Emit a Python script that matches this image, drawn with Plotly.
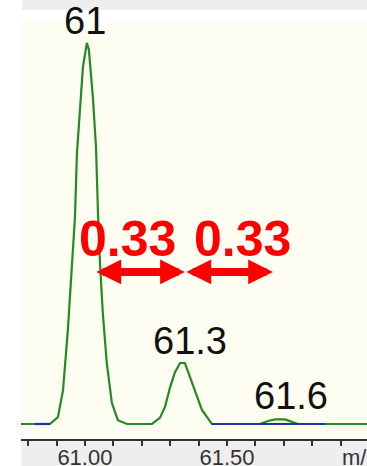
import plotly.graph_objects as go

# ---- data ----
mz = [60.775, 60.850, 60.877, 60.905, 60.923, 60.940, 60.954, 60.965, 60.972, 60.982, 60.993,
      61.007, 61.014, 61.028, 61.039, 61.046, 61.053, 61.063, 61.077, 61.095, 61.116, 61.148,
      61.236, 61.264, 61.282, 61.299, 61.317, 61.335, 61.352, 61.370, 61.387, 61.412, 61.447,
      61.616, 61.644, 61.669, 61.704, 61.729, 61.750, 61.993]
intensity = [0, 0, 0, 1.8, 8.9, 24.7, 40.4, 54.3, 71.1, 81.6, 93.7,
             100, 98.2, 85.8, 72.7, 55.4, 42.3, 29.1, 16.0, 5.5, 1.0, 0,
             0, 1.6, 4.5, 9.4, 13.6, 16.0, 16.0, 12.3, 8.9, 3.7, 0,
             0, 0.8, 1.2, 1.2, 0.6, 0, 0]

# blue baseline segments (m/z start, end)
blue_mz = [60.824, 60.877, None, 61.447, 61.845]
blue_int = [0, 0, None, 0, 0]

peak_labels = ["61", "61.3", "61.6"]
peak_label_mz = [60.999, 61.370, 61.725]
peak_label_int = [105.0, 21.7, 7.4]
peak_label_shift = [3, 0, 0]

spacing_labels = ["0.33", "0.33"]
spacing_label_mz = [61.151, 61.556]
spacing_label_int = 48.5
arrow_mz = [61.035, 61.352, 61.662]
arrow_int = 39.9

tick_vals = [60.8, 60.9, 61.0, 61.1, 61.2, 61.3, 61.4, 61.5, 61.6, 61.7, 61.8, 61.9]
tick_text = ["", "", "61.00", "", "", "", "", "61.50", "", "", "", ""]

W, H = 367, 466
cream = "#FDFDF2"
grey = "#EEEEEE"

fig = go.Figure()
fig.add_trace(go.Scatter(x=mz, y=intensity, mode="lines",
                         line=dict(color="#228B22", width=2.2), hoverinfo="skip"))
fig.add_trace(go.Scatter(x=blue_mz, y=blue_int, mode="lines",
                         line=dict(color="#1F2FA8", width=2.2), hoverinfo="skip"))

ann = []
for t, x, y, s in zip(peak_labels, peak_label_mz, peak_label_int, peak_label_shift):
    ann.append(dict(x=x, y=y, xref="x", yref="y", text=t, showarrow=False, yshift=s,
                    font=dict(family="Liberation Sans, Arial", size=38, color="#111111"),
                    xanchor="center", yanchor="middle"))
for t, x in zip(spacing_labels, spacing_label_mz):
    ann.append(dict(x=x, y=spacing_label_int, xref="x", yref="y", text="<b>%s</b>" % t,
                    showarrow=False,
                    font=dict(family="Liberation Sans, Arial", size=50, color="#FF0000"),
                    xanchor="center", yanchor="middle"))
for i in range(len(arrow_mz) - 1):
    ann.append(dict(x=arrow_mz[i + 1], y=arrow_int, ax=arrow_mz[i], ay=arrow_int,
                    xref="x", yref="y", axref="x", ayref="y", text="",
                    showarrow=True, arrowside="end+start",
                    arrowhead=2, startarrowhead=2, arrowwidth=8,
                    arrowsize=0.62, startarrowsize=0.62, arrowcolor="#FF0000",
                    standoff=0, startstandoff=0))
ann.append(dict(x=340 / W, y=(466 - 457) / H, xref="paper", yref="paper", text="m/z",
                showarrow=False, xanchor="left", yanchor="middle",
                font=dict(family="Liberation Sans, Arial", size=22, color="#333333")))

shapes = [
    dict(type="rect", xref="paper", yref="paper", x0=21 / W, x1=1,
         y0=0, y1=(466 - 441) / H, fillcolor=grey, line=dict(width=0), layer="below"),
    dict(type="rect", xref="paper", yref="paper", x0=22 / W, x1=1,
         y0=(466 - 10) / H, y1=1, fillcolor=grey, line=dict(width=0), layer="below"),
]

fig.update_layout(
    width=W, height=H, margin=dict(l=0, r=0, t=0, b=0, autoexpand=False),
    paper_bgcolor="white", plot_bgcolor=cream, showlegend=False,
    annotations=ann, shapes=shapes,
    xaxis=dict(domain=[21 / W, 1], range=[60.775, 61.993], anchor="free",
               position=(466 - 440) / H, showgrid=False, zeroline=False,
               automargin=False,
               showline=True, linecolor="#333333", linewidth=2,
               ticks="outside", ticklen=5, tickwidth=1.5, tickcolor="#333333",
               tickvals=tick_vals, ticktext=tick_text, ticklabelstandoff=-7,
               tickfont=dict(family="Liberation Sans, Arial", size=22, color="#333333")),
    yaxis=dict(domain=[(466 - 435) / H, (466 - 22) / H], range=[-2.89, 105.5],
               visible=False, showgrid=False, zeroline=False, automargin=False),
)

fig.write_html("out.html")
